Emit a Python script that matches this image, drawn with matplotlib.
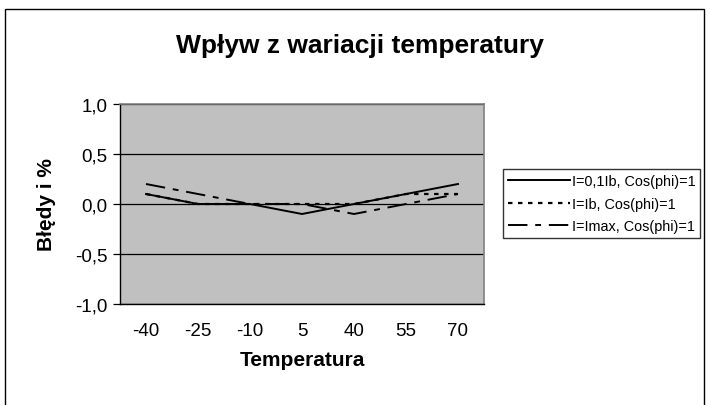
import matplotlib
matplotlib.use("Agg")
import matplotlib.pyplot as plt
from matplotlib.patches import Rectangle
from matplotlib.ticker import FuncFormatter

plt.rcParams['font.family'] = ['Liberation Sans', 'DejaVu Sans']

# data
temperatures = ['-40', '-25', '-10', '5', '40', '55', '70']
err_01ib = [0.1, 0.0, 0.0, -0.1, 0.0, 0.1, 0.2]
err_ib = [0.1, 0.0, 0.0, 0.0, 0.0, 0.1, 0.1]
err_imax = [0.2, 0.1, 0.0, 0.0, -0.1, 0.0, 0.1]
series_labels = ['I=0,1Ib, Cos(phi)=1', 'I=Ib, Cos(phi)=1', 'I=Imax, Cos(phi)=1']

W, H = 710, 406
fig = plt.figure(figsize=(W / 100, H / 100), dpi=100)

# outer chart border
fig.patches.append(Rectangle((5 / W, -0.1), 699 / W, (H - 10) / H + 0.1,
                             transform=fig.transFigure, fill=False,
                             edgecolor='black', linewidth=1.0))

ax = fig.add_axes([120 / W, 1 - 305 / H, 364 / W, 200 / H])
ax.set_facecolor('#c0c0c0')

x = range(len(temperatures))
ax.plot(x, err_01ib, color='black', linewidth=1.4, linestyle='-',
        label=series_labels[0], zorder=3)
ax.plot(x, err_ib, color='black', linewidth=1.6, linestyle=(0, (2, 2.5)),
        label=series_labels[1], zorder=3)
ax.plot(x, err_imax, color='black', linewidth=1.4, linestyle=(0, (10, 4, 3, 4)),
        label=series_labels[2], zorder=3)

ax.set_xlim(-0.5, len(temperatures) - 0.5)
ax.set_ylim(-1.0, 1.0)
ax.set_yticks([-1.0, -0.5, 0.0, 0.5, 1.0])
ax.yaxis.set_major_formatter(FuncFormatter(lambda v, p: f'{v:.1f}'.replace('.', ',')))
ax.set_xticks(list(x))
ax.set_xticklabels(temperatures)
ax.grid(axis='y', color='black', linewidth=0.9)
ax.set_axisbelow(True)

ax.tick_params(axis='x', length=0, pad=13, labelsize=13.5)
ax.tick_params(axis='y', length=5, width=0.9, pad=4, labelsize=13.5)

for side in ['top', 'right']:
    ax.spines[side].set_color('#808080')
    ax.spines[side].set_linewidth(1.2)
for side in ['left', 'bottom']:
    ax.spines[side].set_color('black')
    ax.spines[side].set_linewidth(1.0)

ax.set_xlabel('Temperatura', fontsize=15, fontweight='bold', labelpad=8)
ax.set_ylabel('Błędy i %', fontsize=15, fontweight='bold', labelpad=14)

fig.text(360 / W, 1 - 46 / H, 'Wpływ z wariacji temperatury', ha='center', va='center',
         fontsize=19, fontweight='bold')

leg = fig.legend(loc='upper left', bbox_to_anchor=(503 / W, 1 - 170 / H),
                 fontsize=10.4, frameon=True, fancybox=False, handlelength=4.3,
                 handletextpad=0.1, borderpad=0.35, labelspacing=0.6,
                 borderaxespad=0)
leg.get_frame().set_edgecolor('black')
leg.get_frame().set_linewidth(1.0)

fig.savefig('out.png', dpi=100)
